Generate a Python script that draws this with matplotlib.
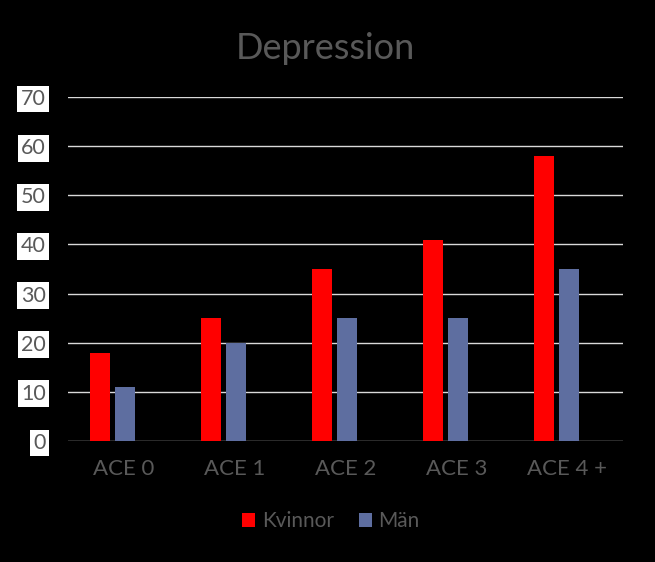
import matplotlib
matplotlib.use("Agg")
import matplotlib.pyplot as plt
import numpy as np

categories = ["ACE 0", "ACE 1", "ACE 2", "ACE 3", "ACE 4 +"]
kvinnor = [18, 25, 35, 41, 58]
man = [11, 20, 25, 25, 35]
yticks = [0, 10, 20, 30, 40, 50, 60, 70]

plt.rcParams['font.family'] = ['Lato', 'DejaVu Sans']
fig = plt.figure(figsize=(6.55, 5.62), dpi=100, facecolor='black')
ax = fig.add_axes([0.1038, 0.2153, 0.8473, 0.6121], facecolor='black')

x = np.arange(len(categories))
w = 0.18
ax.bar(x - 0.21, kvinnor, w, color='#FF0000', label='Kvinnor', zorder=3)
ax.bar(x + 0.01, man, w, color='#5E6EA0', label='Män', zorder=3)

ax.set_xlim(-0.5, len(categories) - 0.5)
ax.set_ylim(0, 70)
ax.set_yticks(yticks)
ax.set_yticklabels([str(v) for v in yticks])
ax.set_xticks(x)
ax.set_xticklabels(categories)
ax.yaxis.grid(True, color='#D9D9D9', linewidth=1.0, zorder=0)
ax.set_axisbelow(True)
for s in ax.spines.values():
    s.set_visible(False)
ax.tick_params(axis='x', length=0, pad=13, labelsize=16, labelcolor='#595959')
ax.tick_params(axis='y', length=0, pad=16, labelsize=15.5, labelcolor='#595959')
for lbl in ax.get_yticklabels():
    lbl.set_bbox(dict(facecolor='white', edgecolor='none', pad=2.5))

fig.text(0.497, 0.913, "Depression", ha='center', va='center', fontsize=26, color='#595959')

leg = fig.legend(loc='center', bbox_to_anchor=(0.505, 0.073), ncol=2, frameon=False,
                 fontsize=15, handlelength=0.65, handleheight=0.65, handletextpad=0.3,
                 columnspacing=1.2)
for t in leg.get_texts():
    t.set_color('#595959')

fig.savefig("out.png", dpi=100, facecolor='black')
